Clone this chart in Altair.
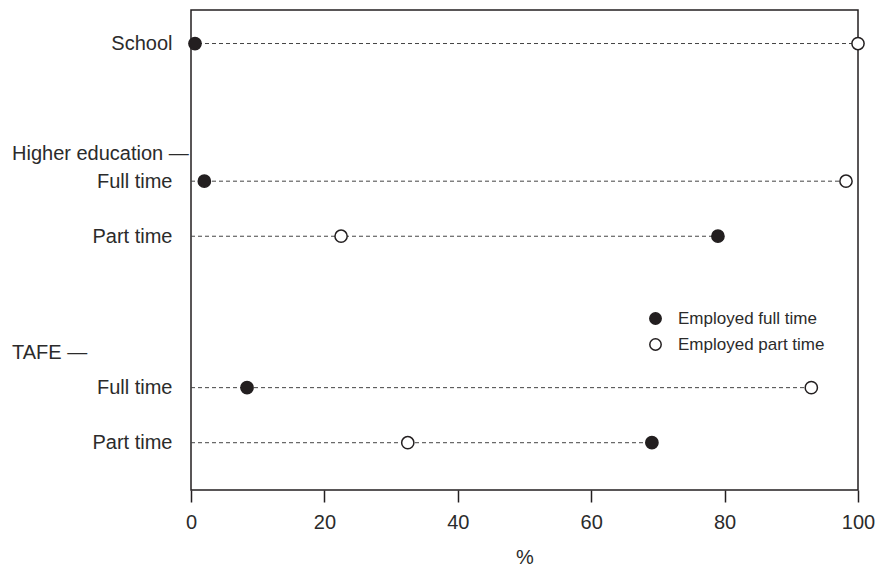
import altair as alt
import pandas as pd

# ---- data ----
groups = ["", "Higher education", "Higher education", "TAFE", "TAFE"]
categories = ["School", "Full time", "Part time", "Full time", "Part time"]
employed_full = [0.6, 2.0, 79.0, 8.4, 69.1]
employed_part = [100.0, 98.2, 22.5, 93.0, 32.5]
series_names = ["Employed full time", "Employed part time"]
headers = ["Higher education", "TAFE"]

# ---- layout: slots on a point scale (spacers between rows) ----
keys = [(g + "|" + c) if g else c for g, c in zip(groups, categories)]
slot_of = {keys[0]: 4, "Higher education": 20, keys[1]: 24, keys[2]: 32,
           "TAFE": 49, keys[3]: 54, keys[4]: 62}
n_slots = 69
by_slot = {v: k for k, v in slot_of.items()}
domain = [by_slot.get(i, f"_sp{i}") for i in range(n_slots)]

rows = pd.DataFrame({"key": keys, "full": employed_full, "part": employed_part})
rows["maxv"] = rows[["full", "part"]].max(axis=1)

pts = pd.DataFrame({
    "key": keys * 2,
    "value": employed_full + employed_part,
    "series": [series_names[0]] * len(keys) + [series_names[1]] * len(keys),
})
hdr = pd.DataFrame({"key": headers, "label": [h + " \u2014" for h in headers]})

FONT = "Liberation Sans"
INK = "#231f20"
TXT = "#2b2b2b"

yscale = alt.Scale(domain=domain, type="point", padding=0.872)
xscale = alt.Scale(domain=[0, 100], nice=False)

y_axis = alt.Axis(values=keys, title=None, ticks=False, domain=False,
                  labelPadding=19, labelFontSize=20, labelFont=FONT, labelColor=TXT,
                  labelExpr="split(datum.value, '|')[length(split(datum.value, '|')) - 1]")

rules = alt.Chart(rows).transform_calculate(zero="0").mark_rule(
    strokeDash=[4, 3], strokeWidth=1, color="#444444"
).encode(
    x=alt.X("zero:Q", scale=xscale, axis=alt.Axis(
        values=[0, 20, 40, 60, 80, 100], title="%", tickSize=12, tickColor=INK,
        tickWidth=1.5, domain=False, grid=False, labelPadding=10, labelFontSize=20,
        labelFlush=False, labelFont=FONT, labelColor=TXT, titleFont=FONT,
        titleFontSize=20, titleFontWeight="normal", titleColor=TXT, titlePadding=15)),
    x2="maxv:Q",
    y=alt.Y("key:N", scale=yscale, axis=y_axis),
)

points = alt.Chart(pts).mark_point(
    shape="circle", filled=True, size=150, stroke=INK, strokeWidth=1.5, opacity=1
).encode(
    x=alt.X("value:Q", scale=xscale),
    y=alt.Y("key:N", scale=yscale),
    fill=alt.Fill("series:N", scale=alt.Scale(domain=series_names, range=[INK, "white"]),
                  legend=alt.Legend(title=None, orient="none", legendX=456, legendY=300,
                                    symbolType="circle", symbolSize=130,
                                    symbolStrokeColor=INK, symbolStrokeWidth=1.5,
                                    labelFont=FONT, labelFontSize=17, labelColor=TXT,
                                    labelOffset=14, rowPadding=7, padding=0)),
)

header_text = alt.Chart(hdr).mark_text(
    align="left", baseline="middle", font=FONT, fontSize=20, color=TXT
).encode(
    x=alt.value(-179),
    y=alt.Y("key:N", scale=yscale),
    text="label:N",
)

chart = alt.layer(rules, points, header_text).properties(
    width=667, height=480, padding={"left": 4, "top": 2, "right": 5, "bottom": 5}
).configure(background="white").configure_view(stroke=INK, strokeWidth=1.5)

chart.save("out.html", embed_options={"renderer": "svg", "actions": False})
